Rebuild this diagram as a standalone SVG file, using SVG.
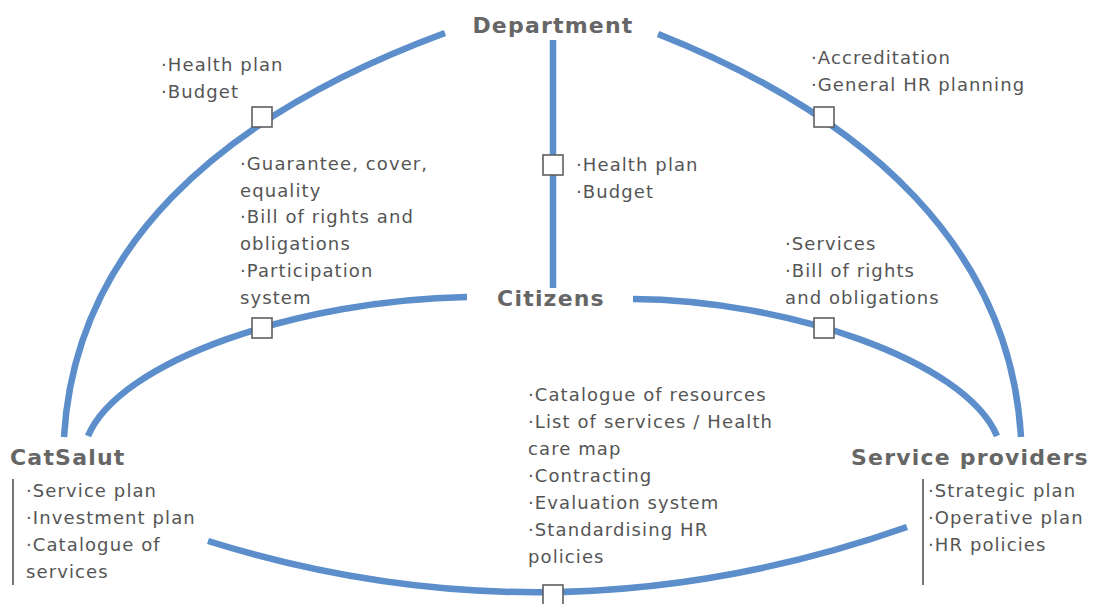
<svg xmlns="http://www.w3.org/2000/svg" width="1093" height="604" viewBox="0 0 1093 604">
<style>
.ln{fill:none;stroke:#5b8ecb;stroke-width:6.5;stroke-linecap:butt}
.bx{fill:#fff;stroke:#5f5f5f;stroke-width:1.6}
.t{font-family:"DejaVu Sans",Verdana,sans-serif;font-size:18px;letter-spacing:1.1px;fill:#555}
.h{font-family:"DejaVu Sans",Verdana,sans-serif;font-weight:bold;font-size:22px;letter-spacing:1.2px;fill:#666}
.sep{stroke:#777;stroke-width:2}
</style>
<rect width="1093" height="604" fill="#fff"/>
<g id="connectors">
<path class="ln" d="M445,33 C215,118 75,250 64,437"/>
<path class="ln" d="M658,34 C870,118 1010,250 1021,437"/>
<path class="ln" d="M553,40 V288"/>
<path class="ln" d="M467,297 C300,300 120,360 88,436"/>
<path class="ln" d="M633,299 C785,300 965,360 997,436"/>
<path class="ln" d="M208,541 Q557,650 907,527"/>
<rect class="bx" x="252" y="107" width="20" height="20"/>
<rect class="bx" x="543" y="155" width="20" height="20"/>
<rect class="bx" x="814" y="107" width="20" height="20"/>
<rect class="bx" x="252" y="318" width="20" height="20"/>
<rect class="bx" x="814" y="318" width="20" height="20"/>
<rect class="bx" x="543" y="585" width="20" height="20"/>
</g>
<g id="labels">
<text class="t" x="161"><tspan x="161" y="71">·Health plan</tspan><tspan x="161" y="98">·Budget</tspan></text>
<text class="t" x="811"><tspan x="811" y="64">·Accreditation</tspan><tspan x="811" y="91">·General HR planning</tspan></text>
<text class="t" x="576"><tspan x="576" y="171">·Health plan</tspan><tspan x="576" y="198">·Budget</tspan></text>
<text class="t" x="240"><tspan x="240" y="169.5">·Guarantee, cover,</tspan><tspan x="240" y="196.5">equality</tspan><tspan x="240" y="223.3">·Bill of rights and</tspan><tspan x="240" y="250">obligations</tspan><tspan x="240" y="277">·Participation</tspan><tspan x="240" y="304">system</tspan></text>
<text class="t" x="785"><tspan x="785" y="250">·Services</tspan><tspan x="785" y="277">·Bill of rights</tspan><tspan x="785" y="304">and obligations</tspan></text>
<text class="t" x="528"><tspan x="528" y="401">·Catalogue of resources</tspan><tspan x="528" y="428">·List of services / Health</tspan><tspan x="528" y="455">care map</tspan><tspan x="528" y="482">·Contracting</tspan><tspan x="528" y="509">·Evaluation system</tspan><tspan x="528" y="536">·Standardising HR</tspan><tspan x="528" y="563">policies</tspan></text>
</g>
<g id="department"><text class="h" x="553" y="33" text-anchor="middle">Department</text></g>
<g id="citizens"><text class="h" x="551" y="306" text-anchor="middle">Citizens</text></g>
<g id="catsalut">
<text class="h" x="10" y="465">CatSalut</text>
<line class="sep" x1="13" y1="479" x2="13" y2="585"/>
<text class="t" x="26"><tspan x="26" y="497">·Service plan</tspan><tspan x="26" y="524">·Investment plan</tspan><tspan x="26" y="551">·Catalogue of</tspan><tspan x="26" y="578">services</tspan></text>
</g>
<g id="service-providers">
<text class="h" x="851" y="465">Service providers</text>
<line class="sep" x1="923" y1="479" x2="923" y2="585"/>
<text class="t" x="928"><tspan x="928" y="497">·Strategic plan</tspan><tspan x="928" y="524">·Operative plan</tspan><tspan x="928" y="551">·HR policies</tspan></text>
</g>
</svg>
